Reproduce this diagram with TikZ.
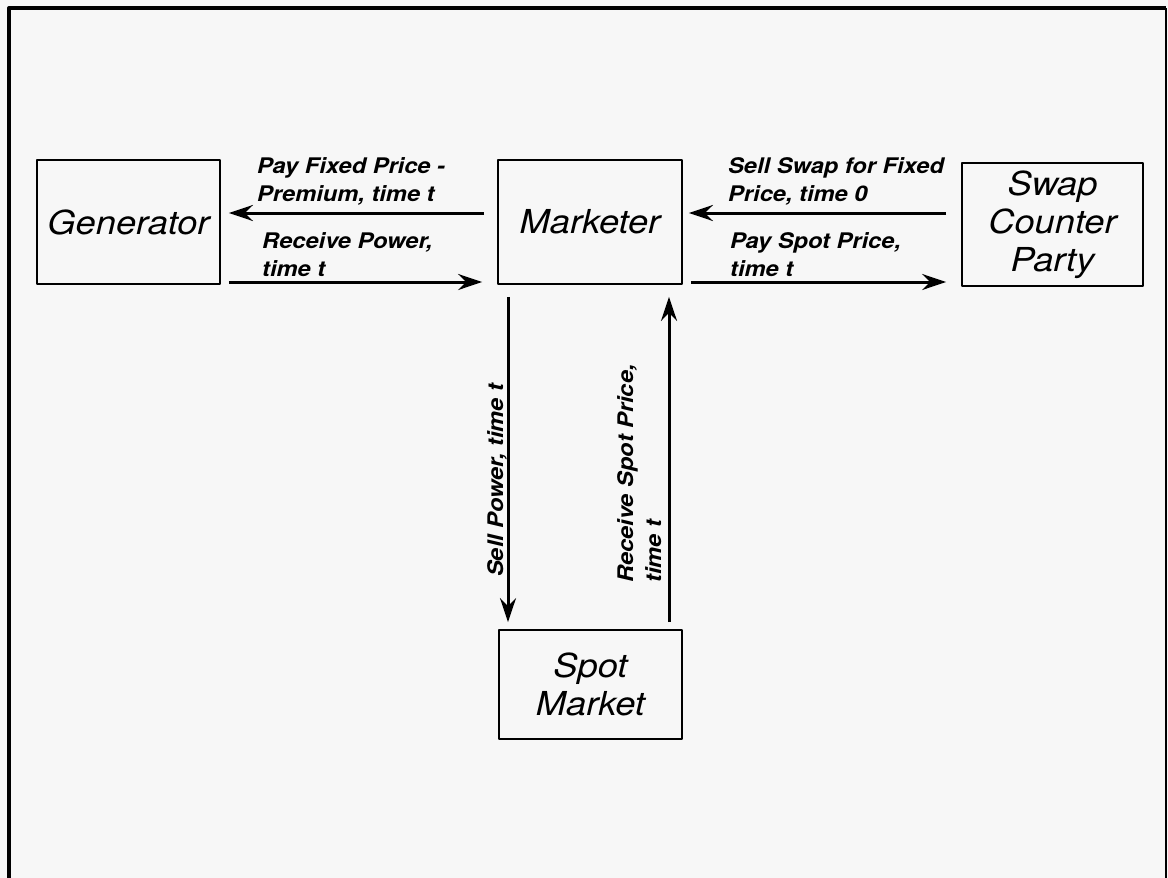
\documentclass[tikz,border=0pt]{standalone}
\usepackage{fontspec}
\setmainfont{TeX Gyre Heros}[FakeStretch=1.1]
\usetikzlibrary{arrows.meta}
\definecolor{paper}{HTML}{F7F7F7}
\begin{document}
\begin{tikzpicture}[x=1pt, y=-1pt, line join=round,
	box/.style={draw, line width=1.8pt, inner sep=0pt, align=center,
		font=\fontsize{33}{38}\selectfont\itshape},
	lbl/.style={inner sep=0pt, align=left, font=\fontsize{21.5}{28}\selectfont\bfseries\itshape},
	flow/.style={-{Stealth[length=24pt,width=16pt,inset=8pt]}, line width=3pt}]
	\def\W{1168} \def\H{878}
	\fill[paper] (0,0) rectangle (\W,\H);
	\useasboundingbox (0,0) rectangle (\W,\H);
	% frame, open at the bottom
	\draw[line width=4pt] (9,\H)--(9,8)--(1166,8);
	\draw[line width=2pt] (1166,8)--(1166,\H);

	\node[box, minimum width=183pt, minimum height=124pt] (gen) at (128.5,222) {Generator};
	\node[box, minimum width=184pt, minimum height=124pt] (mkt) at (590,222) {Marketer};
	\node[box, minimum width=181pt, minimum height=123pt] (swp) at (1052.5,224.5) {Swap\\Counter\\Party};
	\node[box, minimum width=183pt, minimum height=109pt] (spt) at (590.5,684.5) {Spot\\Market};

	\draw[flow] ([shift={(-13,-9)}]mkt.west)--([shift={(8,-9)}]gen.east);
	\draw[flow] ([shift={(8,60)}]gen.east)--([shift={(-15,60)}]mkt.west);
	\draw[flow] ([shift={(-15,-11.5)}]swp.west)--([shift={(6,-9)}]mkt.east);
	\draw[flow] ([shift={(8,60)}]mkt.east)--([shift={(-15,57.5)}]swp.west);
	\draw[flow] ([shift={(-82,12)}]mkt.south)--([shift={(-82.5,-7)}]spt.north);
	\draw[flow] ([shift={(78.5,-7)}]spt.north)--([shift={(79,12)}]mkt.south);

	\node[lbl, anchor=north west] (payfix) at (257,157) {Pay Fixed Price -\\Premium, time t};
	\node[lbl, anchor=north west] (recpow) at (262,232) {Receive Power,\\time t};
	\node[lbl, anchor=north west] (sellswp) at (728,157) {Sell Swap for Fixed\\Price, time 0};
	\node[lbl, anchor=north west] (payspt) at (730,232) {Pay Spot Price,\\time t};
	\node[lbl, rotate=90, anchor=base west] (sellpow) at (503,577) {Sell Power, time t};
	\node[lbl, rotate=90, anchor=north west] (recspt) at (617,583) {Receive Spot Price,\\time t};
\end{tikzpicture}
\end{document}
